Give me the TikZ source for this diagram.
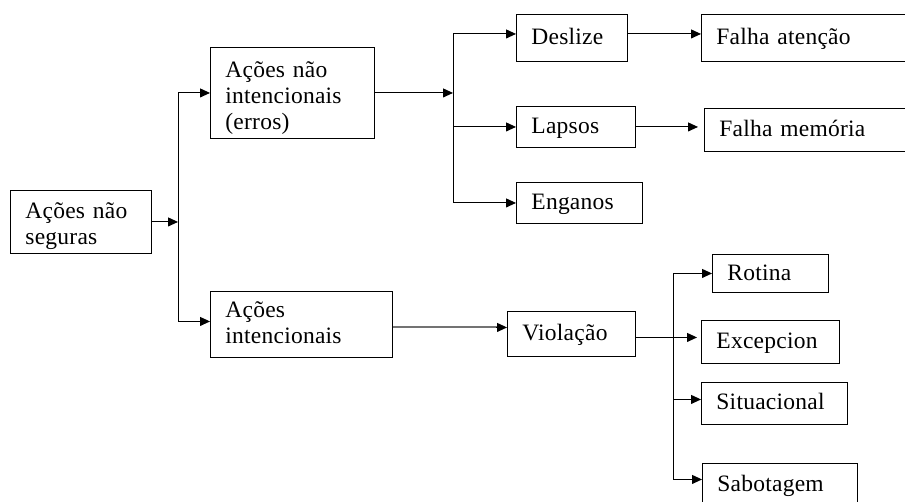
\documentclass[tikz,border=0pt]{standalone}
\usepackage{fontspec}
\setmainfont{Liberation Serif}[LetterSpace=1]
\usetikzlibrary{arrows.meta}
\begin{document}
\begin{tikzpicture}[x=1pt,y=-1pt,
  box/.style={draw, line width=0.9pt, rectangle, anchor=north west, align=left,
    inner xsep=15pt, inner ysep=0pt, font=\fontsize{23.5}{26}\selectfont,
    text height=17pt, text depth=4pt},
  arr/.style={line width=1pt, -{Triangle[length=10pt,width=9pt]}},
  ln/.style={line width=1pt}]
\useasboundingbox (0,0) rectangle (905,501);
\clip (0,0) rectangle (905,501);
% nodes
\node[box, text width=111pt, minimum height=63pt, text height=17pt, text depth=24pt] (b1) at (10,190) {Ações não\\seguras};
\node[box, text width=134pt, minimum height=91pt, text height=17pt, text depth=48.6pt] (b2) at (210,47) {Ações não\\intencionais\\(erros)};
\node[box, text width=152pt, minimum height=66pt, text height=17pt, text depth=31pt] (b3) at (210,291) {Ações\\intencionais};
\node[box, text width=81pt, minimum height=47pt] (d) at (516,14) {Deslize};
\node[box, text width=185pt, minimum height=47pt] (fa) at (701,14) {Falha atenção};
\node[box, text width=89pt, minimum height=41pt] (l) at (516,106) {Lapsos};
\node[box, text width=185pt, minimum height=43pt] (fm) at (704,108) {Falha memória};
\node[box, text width=96pt, minimum height=41pt] (e) at (516,182) {Enganos};
\node[box, text width=98pt, minimum height=45pt] (v) at (507,311) {Violação};
\node[box, text width=86pt, minimum height=38pt, text height=18pt, text depth=4pt] (r) at (712,254) {Rotina};
\node[box, text width=108pt, minimum height=43pt] (ex) at (701,320) {Excepcion};
\node[box, text width=116pt, minimum height=42pt] (s) at (701,382) {Situacional};
\node[box, text width=125pt, minimum height=44pt] (sb) at (702,463) {Sabotagem};
% junctions
\coordinate (j1) at (178,223);
\coordinate (j2) at (453,93);
\coordinate (j3) at (673,337);
% connectors level 1
\draw[arr] (b1.east) -- (b1.east -| j1);
\draw[arr] (b1.east -| j1) |- (b2.west);
\draw[arr] (b1.east -| j1) |- ([yshift=3pt]b3.west);
% level 2 (errors)
\draw[arr] (b2.east) -- (b2.east -| j2);
\draw[arr] (b2.east -| j2) |- ([yshift=4pt]d.west);
\draw[arr] (b2.east -| j2) |- (l.west);
\draw[arr] (b2.east -| j2) |- (e.west);
\draw[arr] ([yshift=4pt]d.east) -- ([yshift=4pt]fa.west);
\draw[arr, shorten >=6pt] (l.east) -- (l.east -| fm.west);
% violations
\draw[line width=2pt, black!55] ([yshift=-3pt]b3.east) -- ([yshift=-3pt,xshift=-10pt]b3.east -| v.west);
\draw[arr] ([yshift=-3pt,xshift=-11pt]b3.east -| v.west) -- ([yshift=-3pt]b3.east -| v.west);
\draw[arr, shorten >=4pt] ([yshift=-3.5pt]v.east) -- ([yshift=-3.5pt]v.east -| ex.west);
\draw[ln] ([yshift=-3.5pt]v.east -| j3) -- (r.west -| j3);
\draw[ln] ([yshift=-3.5pt]v.east -| j3) -- ([yshift=6pt]sb.west -| j3);
\draw[arr] (r.west -| j3) -- (r.west);
\draw[arr] ([yshift=4pt]s.west -| j3) -- ([yshift=4pt]s.west);
\draw[arr] ([yshift=6pt]sb.west -| j3) -- ([yshift=6pt]sb.west);
\end{tikzpicture}
\end{document}
